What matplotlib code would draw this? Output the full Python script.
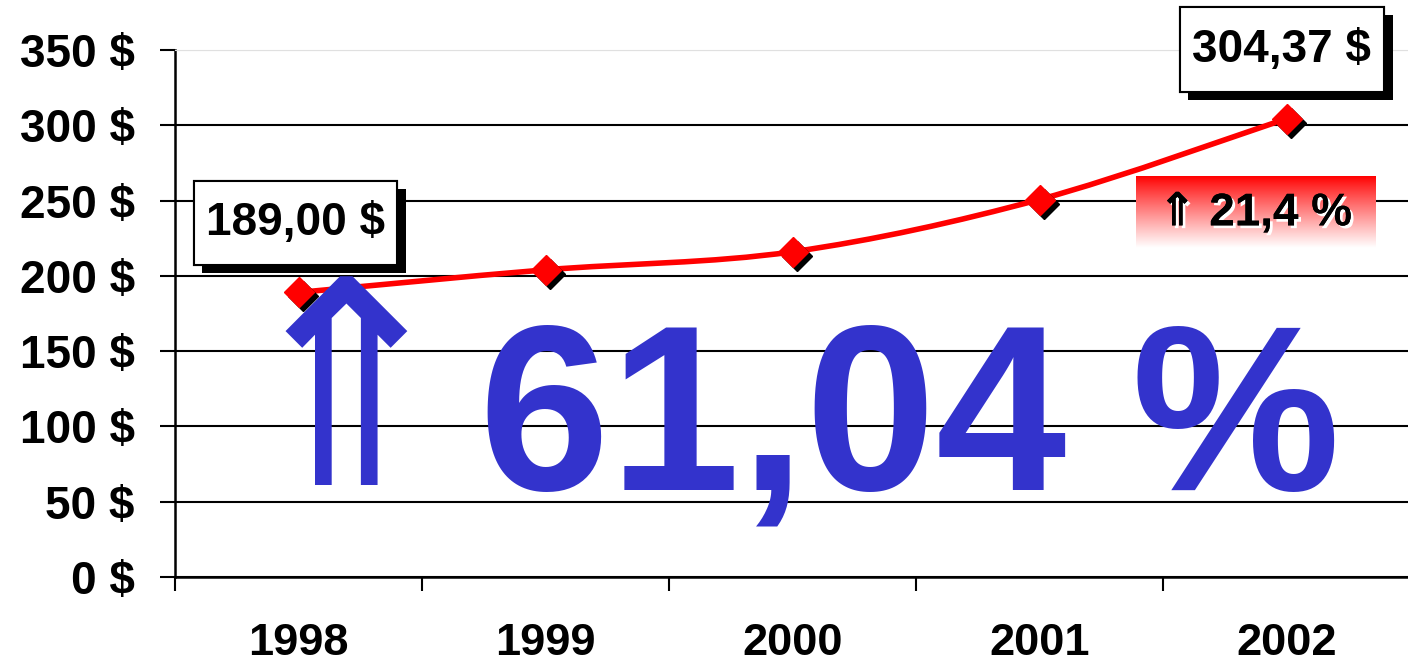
import numpy as np
import matplotlib
matplotlib.use("Agg")
import matplotlib.pyplot as plt
from matplotlib.path import Path
from matplotlib.patches import PathPatch, Rectangle
import matplotlib.patheffects as pe
from matplotlib.transforms import offset_copy

plt.rcParams['font.family'] = ['Liberation Sans', 'DejaVu Sans']

years = ['1998', '1999', '2000', '2001', '2002']
prices = [189.00, 204.0, 216.0, 250.7, 304.37]
ytick_vals = [0, 50, 100, 150, 200, 250, 300, 350]
ytick_labels = ['0 $', '50 $', '100 $', '150 $', '200 $', '250 $', '300 $', '350 $']
first_label = '189,00 $'
last_label = '304,37 $'
yoy_label = '⇑ 21,4 %'
total_label = '61,04 %'

W, H = 1408, 667
fig = plt.figure(figsize=(W / 100, H / 100), dpi=100)
ax = fig.add_axes([175 / W, 90 / H, 1235 / W, 527 / H])

x = np.arange(len(years))
y = np.array(prices)

# smoothed line (Catmull-Rom as cubic Bezier)
pts = np.column_stack([x, y]).astype(float)
ext = np.vstack([pts[0], pts, pts[-1]])
verts = [tuple(pts[0])]
codes = [Path.MOVETO]
for i in range(len(pts) - 1):
    p0, p1, p2, p3 = ext[i], ext[i + 1], ext[i + 2], ext[i + 3]
    c1 = p1 + (p2 - p0) / 6.0
    c2 = p2 - (p3 - p1) / 6.0
    verts += [tuple(c1), tuple(c2), tuple(p2)]
    codes += [Path.CURVE4] * 3
ax.add_patch(PathPatch(Path(verts, codes), facecolor='none', edgecolor='#ff0000',
                       lw=4.0, zorder=3, capstyle='round', joinstyle='round'))

shadow_tr = offset_copy(ax.transData, fig=fig, x=4, y=-4, units='dots')
ax.plot(x, y, 'D', ms=15.5, color='black', transform=shadow_tr, zorder=4)
ax.plot(x, y, 'D', ms=15.5, color='#ff0000', mec='#ff0000', zorder=5)

ax.set_xlim(-0.5, len(years) - 0.5)
ax.set_ylim(0, 350)

ax.set_yticks(ytick_vals)
ax.set_yticklabels(ytick_labels, fontsize=33, fontweight='bold')
ax.tick_params(axis='y', length=11, width=1.5, pad=18, direction='out')

ax.set_xticks(x)
ax.set_xticklabels(years, fontsize=32.5, fontweight='bold')
ax.set_xticks(np.arange(-0.5, len(years)), minor=True)
ax.tick_params(axis='x', which='major', length=0, pad=33)
ax.tick_params(axis='x', which='minor', length=10, width=1.5, direction='out')

ax.yaxis.grid(True, color='black', lw=1.5)
ax.get_ygridlines()[-1].set_color('#e0e0e0')
ax.set_axisbelow(True)
ax.spines['right'].set_visible(False)
ax.spines['top'].set_color('#e0e0e0')
ax.spines['left'].set_linewidth(1.8)
ax.spines['bottom'].set_linewidth(1.8)

# value boxes with shadow
def value_box(x0, x1, y0, y1, txt):
    r = Rectangle((x0, y0), x1 - x0, y1 - y0, fc='white', ec='black', lw=1.5,
                  zorder=6, clip_on=False)
    r.set_path_effects([pe.withSimplePatchShadow(offset=(6, -6), shadow_rgbFace='black',
                                                 alpha=1.0), pe.Normal()])
    ax.add_patch(r)
    ax.text((x0 + x1) / 2, (y0 + y1) / 2, txt, ha='center', va='center', fontsize=33,
            fontweight='bold', zorder=7, clip_on=False)

value_box(-0.425, 0.400, 207.2, 263.0, first_label)
value_box(3.567, 4.396, 322.0, 378.5, last_label)

# gradient box for yearly growth
grad = np.linspace(0, 1, 100).reshape(-1, 1)
rgb = np.zeros((100, 1, 3))
rgb[..., 0] = 1.0
rgb[..., 1] = grad ** 0.9
rgb[..., 2] = grad ** 0.9
ax.imshow(rgb, extent=(3.389, 4.359, 218.5, 266.3), origin='upper', aspect='auto',
          zorder=2, interpolation='bilinear')
ax.set_xlim(-0.5, len(years) - 0.5)
ax.set_ylim(0, 350)
ax.text(3.874, 241.5, yoy_label, ha='center', va='center', fontsize=33,
        fontweight='bold', color='black', zorder=6,
        path_effects=[pe.withSimplePatchShadow(offset=(2, -2), shadow_rgbFace='white', alpha=1.0),
                      pe.Normal()])

# big growth annotation
blue = '#3333cc'
ax.text(0.19, 61, '⇑', ha='center', va='baseline', fontsize=205, color=blue,
        family='DejaVu Sans', zorder=7)
ax.text(0.73, 57.8, total_label, ha='left', va='baseline', fontsize=169,
        fontweight='bold', color=blue, zorder=7)

fig.savefig('out.png', dpi=100, facecolor='white')
